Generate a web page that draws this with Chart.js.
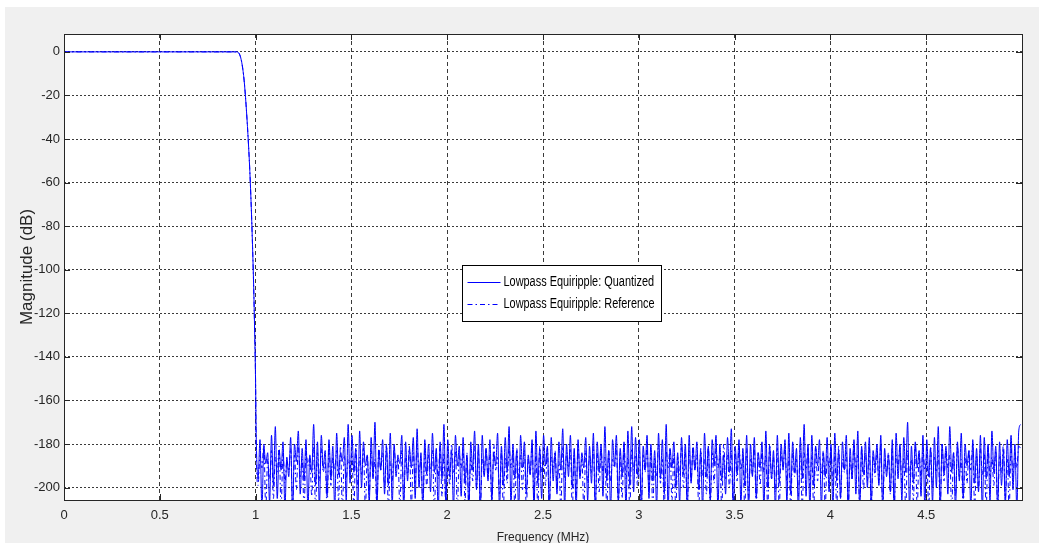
<!DOCTYPE html>
<html>
<head>
<meta charset="utf-8">
<title>Lowpass Equiripple magnitude response</title>
<script src="https://cdn.jsdelivr.net/npm/chart.js@4.4.1/dist/chart.umd.min.js"></script>
<style>
  html, body { margin: 0; padding: 0; background: #ffffff; }
  #wrap { position: relative; width: 1039px; height: 543px; }
</style>
</head>
<body>
<div id="wrap"><canvas id="magChart"></canvas></div>
<script>
// Passband + transition (frequency in MHz, magnitude in dB)
const passFreq   = [0, 0.5, 0.9, 0.91, 0.92, 0.93, 0.94, 0.95, 0.96, 0.97, 0.98, 0.99, 0.995, 1.0]
const quantPass  = [0, 0, 0, -0.3, -2, -6, -13, -24, -38, -55, -78, -108, -128, -152]
const refPass    = [0, 0, 0, -0.3, -2, -6, -13, -24, -38, -55, -78, -108, -128, -152]

// Stopband samples, one every stopStep MHz starting at stopStart
const stopStart = 1.003
const stopStep = 0.01

const quantStop = [
  -175, -196, -178, -210, -181, -189, -184, -207, -176, -199,
  -172, -205, -183, -192, -179, -210, -186, -195, -177, -211,
  -180, -188, -174, -203, -182, -197, -178, -210, -185, -193,
  -171, -199, -179, -209, -176, -191, -183, -204, -178, -196,
  -181, -210, -175, -194, -184, -188, -177, -206, -171, -198,
  -176, -193, -182, -211, -174, -200, -179, -190, -185, -207,
  -177, -196, -170, -210, -183, -192, -178, -203, -181, -199,
  -175, -208, -180, -195, -186, -189, -176, -210, -179, -197,
  -182, -191, -177, -205, -173, -200, -184, -210, -178, -194,
  -180, -202, -175, -193, -182, -211, -179, -196, -171, -207,
  -178, -195, -183, -210, -176, -190, -181, -204, -177, -198,
  -185, -209, -179, -192, -174, -201, -180, -210, -176, -195,
  -182, -197, -178, -206, -184, -190, -175, -210, -181, -199,
  -177, -193, -172, -208, -180, -196, -183, -211, -176, -191,
  -179, -203, -185, -194, -178, -210, -174, -198, -182, -205,
  -176, -190, -181, -210, -177, -197, -184, -203, -179, -192,
  -173, -209, -180, -195, -176, -200, -182, -210, -178, -196,
  -184, -191, -177, -206, -181, -198, -175, -211, -179, -193,
  -180, -204, -172, -197, -183, -210, -178, -190, -176, -207,
  -182, -195, -179, -210, -174, -199, -172, -202, -177, -194,
  -178, -210, -181, -192, -176, -205, -180, -197, -183, -209,
  -175, -196, -178, -203, -171, -210, -182, -191, -179, -200,
  -184, -207, -177, -194, -180, -210, -176, -198, -182, -192,
  -179, -201, -183, -210, -175, -195, -181, -206, -178, -190,
  -176, -210, -180, -197, -185, -203, -177, -193, -173, -211,
  -181, -194, -178, -208, -182, -199, -176, -210, -180, -195,
  -177, -205, -184, -191, -179, -210, -174, -200, -181, -196,
  -183, -210, -176, -198, -180, -192, -178, -207, -175, -203,
  -179, -193, -182, -211, -177, -196, -171, -204, -180, -210,
  -176, -199, -181, -190, -178, -209, -184, -195, -177, -202,
  -180, -210, -175, -197, -183, -205, -179, -192, -176, -210,
  -182, -196, -178, -203, -174, -210, -181, -194, -179, -200,
  -177, -208, -183, -191, -180, -199, -176, -210, -182, -195,
  -185, -202, -178, -210, -175, -196, -180, -206, -177, -193,
  -170, -210, -181, -198, -179, -191, -183, -204, -176, -210,
  -178, -195, -182, -207, -177, -200, -172, -210, -180, -194,
  -181, -203, -172, -193, -184, -210, -179, -197, -175, -205,
  -180, -190, -183, -210, -178, -198, -182, -202, -176, -211,
  -177, -196, -180, -206, -174, -193, -181, -210, -179, -199,
  -183, -208, -178, -195, -176, -201, -180, -210, -174, -171
]

const refStop = [
  -182, -199, -185, -191, -180, -210, -187, -196, -183, -205,
  -186, -193, -181, -210, -184, -198, -188, -192, -182, -210,
  -185, -201, -180, -195, -187, -210, -183, -190, -186, -204,
  -181, -210, -184, -197, -182, -193, -188, -210, -180, -199,
  -186, -192, -183, -206, -181, -210, -185, -196, -187, -191,
  -184, -210, -180, -199, -186, -194, -182, -210, -185, -203,
  -183, -195, -187, -210, -181, -192, -184, -200, -180, -210,
  -188, -197, -182, -191, -185, -210, -183, -205, -186, -194,
  -181, -210, -184, -198, -180, -193, -187, -210, -182, -200,
  -185, -192, -183, -210, -186, -196, -181, -204, -184, -210,
  -187, -199, -180, -193, -183, -210, -185, -191, -182, -206,
  -184, -210, -186, -197, -181, -200, -183, -210, -187, -194,
  -182, -195, -185, -210, -180, -192, -186, -203, -183, -210,
  -186, -198, -181, -191, -184, -210, -182, -196, -185, -201,
  -183, -210, -187, -194, -180, -205, -184, -210, -181, -193,
  -185, -199, -182, -210, -186, -192, -183, -200, -188, -210,
  -181, -196, -184, -191, -182, -210, -185, -204, -180, -195,
  -187, -210, -183, -198, -185, -193, -181, -210, -184, -202,
  -182, -194, -186, -210, -183, -197, -187, -191, -181, -210,
  -184, -205, -180, -196, -186, -210, -182, -192, -185, -199,
  -183, -210, -185, -193, -181, -201, -184, -210, -186, -195,
  -180, -198, -187, -210, -183, -191, -182, -206, -185, -210,
  -186, -194, -181, -200, -184, -210, -183, -197, -180, -192,
  -185, -210, -182, -195, -187, -203, -181, -210, -184, -198,
  -182, -191, -186, -210, -180, -196, -185, -200, -183, -210,
  -184, -197, -181, -192, -186, -210, -182, -205, -187, -194,
  -181, -210, -184, -199, -183, -193, -185, -210, -180, -196,
  -186, -202, -182, -210, -184, -191, -181, -198, -186, -210,
  -183, -195, -187, -204, -180, -210, -184, -192, -182, -200,
  -185, -210, -181, -197, -186, -194, -183, -210, -185, -191,
  -182, -199, -184, -210, -181, -205, -187, -193, -183, -210,
  -186, -196, -180, -192, -185, -210, -182, -201, -184, -197,
  -181, -210, -186, -195, -183, -198, -180, -210, -187, -193,
  -184, -203, -182, -210, -185, -191, -181, -199, -186, -210,
  -183, -194, -187, -206, -180, -210, -184, -196, -182, -192,
  -185, -210, -181, -200, -186, -193, -183, -210, -180, -197,
  -182, -191, -185, -210, -184, -204, -181, -195, -187, -210,
  -186, -198, -183, -192, -180, -210, -185, -201, -182, -194,
  -184, -210, -181, -196, -186, -199, -183, -210, -185, -193,
  -180, -205, -187, -210, -182, -195, -184, -191, -181, -182
]

const xTicks = [0, 0.5, 1, 1.5, 2, 2.5, 3, 3.5, 4, 4.5]
const yTicks = [0, -20, -40, -60, -80, -100, -120, -140, -160, -180, -200]
const xLimits = [0, 5]
const yLimits = [-205.7, 8.2]

const seriesNames = ["Lowpass Equiripple: Quantized", "Lowpass Equiripple: Reference"]

const SANS = "'Liberation Sans', Arial, sans-serif"
const DASH_DOT = [5, 3, 1.5, 3]

function toPoints(freqs, pass, stop) {
  const pts = freqs.map((f, i) => ({ x: f, y: pass[i] }))
  stop.forEach((v, i) => pts.push({ x: stopStart + i * stopStep, y: v }))
  return pts
}

// Figure background, white axes box
const backgroundPlugin = {
  id: "figureBackground",
  beforeDraw(chart) {
    const { ctx, chartArea: a } = chart
    ctx.save()
    ctx.fillStyle = "#ffffff"
    ctx.fillRect(0, 0, chart.width, chart.height)
    ctx.fillStyle = "#f0f0f0"
    ctx.fillRect(5, 7, chart.width - 5, chart.height - 7)
    ctx.fillStyle = "#ffffff"
    ctx.fillRect(a.left, a.top, a.right - a.left, a.bottom - a.top)
    ctx.restore()
  },
}

// Box around the axes with inward tick marks, plus the legend box
const boxPlugin = {
  id: "axesBox",
  afterDraw(chart) {
    const { ctx, chartArea: a, scales } = chart
    ctx.save()
    ctx.strokeStyle = "#262626"
    ctx.lineWidth = 1
    ctx.setLineDash([])
    ctx.strokeRect(Math.round(a.left) + 0.5, Math.round(a.top) + 0.5,
      Math.round(a.right - a.left), Math.round(a.bottom - a.top))

    ctx.beginPath()
    xTicks.forEach((t) => {
      const px = Math.round(scales.x.getPixelForValue(t)) + 0.5
      ctx.moveTo(px, a.bottom); ctx.lineTo(px, a.bottom - 6)
      ctx.moveTo(px, a.top); ctx.lineTo(px, a.top + 6)
    })
    yTicks.forEach((t) => {
      const py = Math.round(scales.y.getPixelForValue(t)) + 0.5
      ctx.moveTo(a.left, py); ctx.lineTo(a.left + 6, py)
      ctx.moveTo(a.right, py); ctx.lineTo(a.right - 6, py)
    })
    ctx.stroke()

    // legend
    const lx = 462.5, ly = 265.5, lw = 199, lh = 56
    ctx.fillStyle = "#ffffff"
    ctx.fillRect(lx, ly, lw, lh)
    ctx.strokeStyle = "#000000"
    ctx.strokeRect(lx, ly, lw, lh)
    ctx.font = "14px " + SANS
    ctx.textBaseline = "middle"
    ctx.textAlign = "left"
    chart.data.datasets.forEach((ds, i) => {
      const y = Math.round(ly + 16 + i * 22) + 0.5
      ctx.strokeStyle = ds.borderColor
      ctx.setLineDash(ds.borderDash || [])
      ctx.beginPath()
      ctx.moveTo(lx + 5, y)
      ctx.lineTo(lx + 38, y)
      ctx.stroke()
      // narrow lettering like the original figure
      ctx.save()
      ctx.translate(lx + 41, y)
      ctx.scale(0.78, 1)
      ctx.fillStyle = "#000000"
      ctx.fillText(ds.label, 0, 0)
      ctx.restore()
    })
    ctx.restore()
  },
}

const config = {
  type: "line",
  data: {
    datasets: [
      {
        label: seriesNames[0],
        data: toPoints(passFreq, quantPass, quantStop),
        borderColor: "#0000ff",
        borderWidth: 1,
        pointRadius: 0,
        cubicInterpolationMode: "monotone",
        fill: false,
      },
      {
        label: seriesNames[1],
        data: toPoints(passFreq, refPass, refStop),
        borderColor: "#0000ff",
        borderWidth: 1,
        borderDash: DASH_DOT,
        pointRadius: 0,
        cubicInterpolationMode: "monotone",
        fill: false,
      },
    ],
  },
  options: {
    responsive: true,
    maintainAspectRatio: false,
    animation: false,
    layout: { padding: { left: 5, top: 34, right: 17, bottom: 0 } },
    plugins: {
      legend: { display: false },
      tooltip: { enabled: false },
    },
    scales: {
      x: {
        type: "linear",
        min: xLimits[0],
        max: xLimits[1],
        afterBuildTicks: (axis) => { axis.ticks = xTicks.map((v) => ({ value: v })) },
        afterFit: (axis) => { axis.height = 43 },
        grid: { color: "#3a3a3a", lineWidth: 1, drawTicks: false },
        border: { display: false, dash: [4, 3] },
        ticks: {
          color: "#262626",
          padding: 8,
          maxRotation: 0,
          font: { family: SANS, size: 13 },
          callback: (v) => String(v),
        },
        title: {
          display: true,
          text: "Frequency (MHz)",
          color: "#262626",
          font: { family: SANS, size: 12, lineHeight: 0.85 },
          padding: { top: 0, bottom: 0 },
        },
      },
      y: {
        type: "linear",
        min: yLimits[0],
        max: yLimits[1],
        afterBuildTicks: (axis) => { axis.ticks = yTicks.map((v) => ({ value: v })) },
        afterFit: (axis) => { axis.width = 59 },
        grid: { color: "#3a3a3a", lineWidth: 1, drawTicks: false },
        border: { display: false, dash: [2, 2] },
        ticks: {
          color: "#262626",
          padding: 4,
          font: { family: SANS, size: 13 },
          callback: (v) => String(v),
        },
        title: {
          display: true,
          text: "Magnitude (dB)",
          color: "#262626",
          font: { family: SANS, size: 17 },
          padding: { top: 12, bottom: 0 },
        },
      },
    },
  },
  plugins: [backgroundPlugin, boxPlugin],
}

new Chart(document.getElementById("magChart"), config)
</script>
</body>
</html>
